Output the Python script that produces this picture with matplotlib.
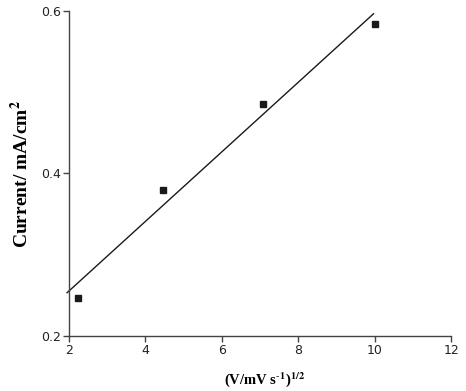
import numpy as np
import matplotlib
matplotlib.use("Agg")
import matplotlib.pyplot as plt

# square root of scan rate and measured peak current
sqrt_scan_rate = [2.236, 4.472, 7.071, 10.0]
current = [0.247, 0.380, 0.486, 0.584]

x_ticks = [2, 4, 6, 8, 10, 12]
y_ticks = [0.2, 0.4, 0.6]

plt.rcParams['mathtext.fontset'] = 'stix'

fig = plt.figure(figsize=(4.66, 3.91), dpi=100)
ax = fig.add_axes([0.148, 0.1407, 0.820, 0.8312])

# linear fit drawn over the data span
slope, intercept = np.polyfit(sqrt_scan_rate, current, 1)
fit_x = np.array([1.95, 9.97])
ax.plot(fit_x, slope * fit_x + intercept, color='#1a1a1a', lw=1.0, clip_on=False)

ax.plot(sqrt_scan_rate, current, 's', color='#1a1a1a', ms=5, clip_on=False)

ax.set_xlim(2, 12)
ax.set_ylim(0.2, 0.6)
ax.set_xticks(x_ticks)
ax.set_yticks(y_ticks)
ax.set_yticklabels([f'{v:.1f}' for v in y_ticks])

for side in ['top', 'right']:
    ax.spines[side].set_visible(False)
for side in ['left', 'bottom']:
    ax.spines[side].set_color('#444444')
    ax.spines[side].set_linewidth(1.0)

tick_font = ['Liberation Sans Narrow', 'DejaVu Sans']
ax.tick_params(direction='out', length=4, width=1.0, color='#444444',
               labelsize=9, labelcolor='#222222', pad=2)
for lbl in ax.get_xticklabels() + ax.get_yticklabels():
    lbl.set_family(tick_font)

ax.set_xlabel(r'(V/mV s$^{\mathbf{\text{-}1}}$)$^{\mathbf{1/2}}$', family='Liberation Serif',
              fontweight='bold', fontsize=10.5)
ax.set_ylabel(r'Current/ mA/cm$^{\mathbf{2}}$', family='Liberation Serif',
              fontweight='bold', fontsize=14)
ax.xaxis.set_label_coords(0.513, -0.105)
ax.yaxis.set_label_coords(-0.096, 0.5)

fig.savefig('out.png', dpi=100)
